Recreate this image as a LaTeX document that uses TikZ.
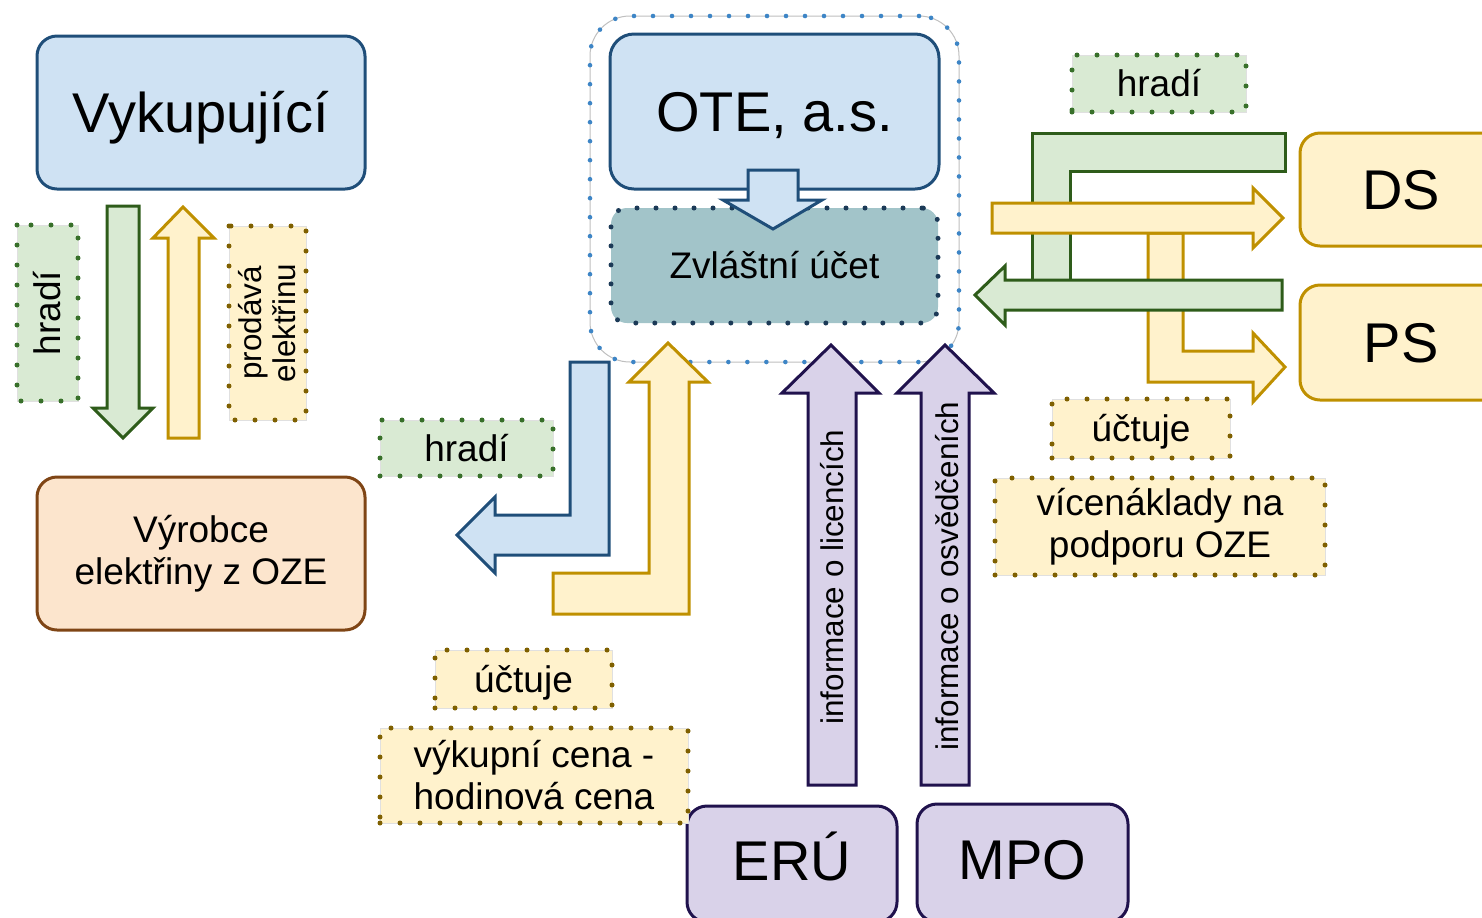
\documentclass[tikz,border=0pt]{standalone}
\usepackage{fontspec}
\setmainfont{Liberation Sans}
\definecolor{blueFill}{HTML}{CFE2F3}
\definecolor{blueLine}{HTML}{1F4E79}
\definecolor{greenFill}{HTML}{D9EAD3}
\definecolor{greenLine}{HTML}{2E5C1A}
\definecolor{greenDot}{HTML}{38702A}
\definecolor{goldFill}{HTML}{FFF2CC}
\definecolor{goldLine}{HTML}{BF9000}
\definecolor{goldDot}{HTML}{7F6000}
\definecolor{tealFill}{HTML}{A2C4C9}
\definecolor{tealDot}{HTML}{1C3A57}
\definecolor{purpleFill}{HTML}{D9D2E9}
\definecolor{purpleLine}{HTML}{20124D}
\definecolor{orangeFill}{HTML}{FCE5CD}
\definecolor{orangeLine}{HTML}{7F4515}
\definecolor{contDot}{HTML}{3D85C6}
\begin{document}
\begin{tikzpicture}[x=0.5pt,y=-0.5pt,
  dotline/.style={dash pattern=on 0pt off 10pt, line cap=round, line width=2.5pt},
  box/.style={rounded corners=10pt, line width=1.5pt, inner sep=0pt, align=center},
  bigtext/.style={font=\fontsize{28}{33}\selectfont, text height=20pt, text depth=0pt},
  midtext/.style={font=\fontsize{18.5}{21}\selectfont, text height=13.2pt, text depth=0pt},
  twoline/.style={font=\fontsize{18.5}{21}\selectfont},
  labelbox/.style={inner sep=0pt, align=center, draw=black!12, line width=0.5pt},
  greenlabel/.style={labelbox, fill=greenFill, postaction={draw=greenDot, dotline}},
  goldlabel/.style={labelbox, fill=goldFill, postaction={draw=goldDot, dotline}},
  blockarrow/.style={line width=1.5pt, line join=miter},
  vtext/.style={rotate=90, inner sep=0pt, font=\fontsize{15.7}{17}\selectfont, text height=11.2pt, text depth=0pt}
]
\clip (0,0) rectangle (1482,917);

% container round OTE
\node[rounded corners=20pt, draw=black!25, line width=0.5pt,
      postaction={draw=contDot, dash pattern=on 0pt off 9.5pt, line cap=round, line width=2.3pt},
      minimum width=184.5pt, minimum height=173pt, inner sep=0pt] (cont) at (774.5,189) {};

% main boxes
\node[box, fill=blueFill, draw=blueLine, minimum width=164pt, minimum height=76.5pt, bigtext] (vyk) at (201,112.5) {Vykupující};
\node[box, fill=blueFill, draw=blueLine, rounded corners=12pt, minimum width=164.5pt, minimum height=77.5pt, bigtext] (ote) at (774.5,111.5) {OTE, a.s.};
\node[box, fill=tealFill, draw=tealDot, dash pattern=on 0pt off 9.5pt, line cap=round, line width=2.5pt, rounded corners=8pt, minimum width=163.5pt, minimum height=57.5pt, midtext] (ucet) at (774.5,265.5) {Zvláštní účet};
\node[box, fill=orangeFill, draw=orangeLine, minimum width=164pt, minimum height=76.5pt, twoline] (vyr) at (201,553.5) {Výrobce\\elektřiny z OZE};
\node[box, fill=goldFill, draw=goldLine, minimum width=101pt, minimum height=56.5pt, bigtext] (ds) at (1401,189.5) {DS};
\node[box, fill=goldFill, draw=goldLine, minimum width=101pt, minimum height=57.5pt, bigtext] (ps) at (1401,342.5) {PS};
\node[box, fill=purpleFill, draw=purpleLine, minimum width=105pt, minimum height=58pt, bigtext, text depth=4pt] (eru) at (792,864) {ERÚ};
\node[box, fill=purpleFill, draw=purpleLine, minimum width=105.5pt, minimum height=59pt, bigtext, text depth=4pt] (mpo) at (1022.5,863) {MPO};

% small arrow OTE -> Zvlastni ucet
\draw[blockarrow, fill=blueFill, draw=blueLine] (748,170) -- (798,170) -- (798,200) -- (822,200) -- (773,229) -- (723,200) -- (748,200) -- cycle;

% left vertical arrows
\draw[blockarrow, fill=greenFill, draw=greenLine] (107,206) -- (139,206) -- (139,408) -- (153,408) -- (123,438) -- (93,408) -- (107,408) -- cycle;
\draw[blockarrow, fill=goldFill, draw=goldLine] (168,438) -- (199,438) -- (199,238) -- (214,238) -- (183,207) -- (153,238) -- (168,238) -- cycle;

% bent arrows OTE <-> Vyrobce
\draw[blockarrow, fill=blueFill, draw=blueLine] (570,362) -- (609,362) -- (609,555) -- (495,555) -- (495,573) -- (457,535) -- (495,497) -- (495,515) -- (570,515) -- cycle;
\draw[blockarrow, fill=goldFill, draw=goldLine] (553,573) -- (649,573) -- (649,382) -- (629,382) -- (668,343) -- (708,382) -- (689,382) -- (689,614) -- (553,614) -- cycle;

% purple arrows
\draw[blockarrow, fill=purpleFill, draw=purpleLine] (808,785) -- (856,785) -- (856,393) -- (879,393) -- (831,345) -- (782,393) -- (808,393) -- cycle;
\draw[blockarrow, fill=purpleFill, draw=purpleLine] (921,785) -- (969,785) -- (969,393) -- (994,393) -- (945,345) -- (897,393) -- (921,393) -- cycle;
\node[vtext] (licence) at (832,577) {informace o licencích};
\node[vtext] (osvedceni) at (947,576) {informace o osvědčeních};

% right side arrows
\draw[blockarrow, fill=greenFill, draw=greenLine] (1032,280) -- (1032,133) -- (1285,133) -- (1285,171) -- (1070,171) -- (1070,280) -- cycle;
\draw[blockarrow, fill=goldFill, draw=goldLine] (1148,233) -- (1148,382) -- (1253,382) -- (1253,402) -- (1285,367) -- (1253,333) -- (1253,351) -- (1183,351) -- (1183,233) -- cycle;
\draw[blockarrow, fill=goldFill, draw=goldLine] (992,203) -- (1253,203) -- (1253,188) -- (1283,218) -- (1253,248) -- (1253,233) -- (992,233) -- cycle;
\draw[blockarrow, fill=greenFill, draw=greenLine] (1282,280) -- (1282,310) -- (1005,310) -- (1005,325) -- (975,295) -- (1005,266) -- (1005,280) -- cycle;

% labels
\node[greenlabel, rotate=90, minimum width=88pt, minimum height=30.5pt, midtext] (hradiL) at (47.5,313) {hradí};
\node[goldlabel, rotate=90, minimum width=97pt, minimum height=38.5pt, font=\fontsize{15.7}{17}\selectfont] (prodava) at (267.5,323) {prodává\\elektřinu};
\node[greenlabel, minimum width=86.5pt, minimum height=28pt, midtext] (hradiM) at (466.5,448) {hradí};
\node[greenlabel, minimum width=87pt, minimum height=28.5pt, midtext] (hradiR) at (1159,83.5) {hradí};
\node[goldlabel, minimum width=88.5pt, minimum height=29pt, midtext] (uctujeB) at (523.5,679) {účtuje};
\node[goldlabel, minimum width=154pt, minimum height=47.5pt, twoline] (vykupni) at (534,775.5) {výkupní cena -\\hodinová cena};
\node[goldlabel, minimum width=89pt, minimum height=29.5pt, midtext] (uctujeR) at (1141,428.5) {účtuje};
\node[goldlabel, minimum width=165pt, minimum height=48.5pt, twoline] (vicenaklady) at (1160,526.5) {vícenáklady na\\podporu OZE};
\end{tikzpicture}
\end{document}
